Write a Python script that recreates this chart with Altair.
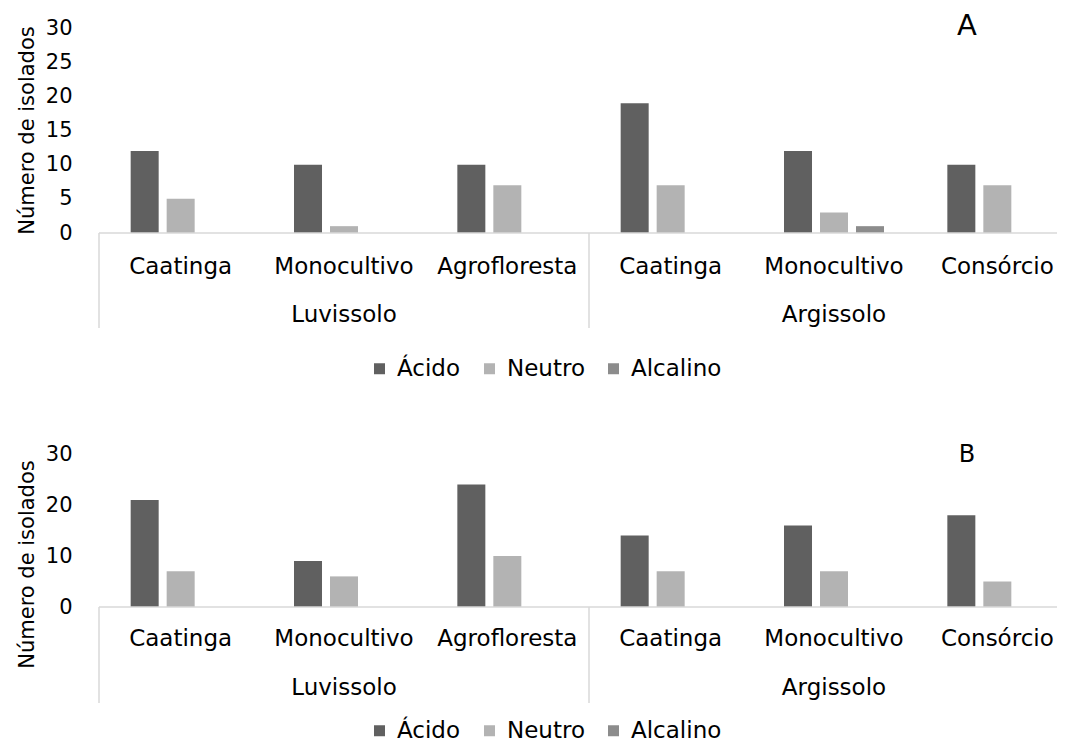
import altair as alt
import pandas as pd

FONT = "DejaVu Sans"

soils = ["Luvissolo", "Luvissolo", "Luvissolo", "Argissolo", "Argissolo", "Argissolo"]
systems = ["Caatinga", "Monocultivo", "Agrofloresta", "Caatinga", "Monocultivo", "Consórcio"]
types = ["Ácido", "Neutro", "Alcalino"]
colors = ["#606060", "#b3b3b3", "#8c8c8c"]

# Panel A
a_acido = [12, 10, 10, 19, 12, 10]
a_neutro = [5, 1, 7, 7, 3, 7]
a_alcalino = [0, 0, 0, 0, 1, 0]
# Panel B
b_acido = [21, 9, 24, 14, 16, 18]
b_neutro = [7, 6, 10, 7, 7, 5]
b_alcalino = [0, 0, 0, 0, 0, 0]

a_ticks = [0, 5, 10, 15, 20, 25, 30]
b_ticks = [0, 10, 20, 30]

keys = [f"{s}|{c}" for s, c in zip(soils, systems)]
group_names = ["Luvissolo", "Argissolo"]
group_center_keys = [keys[1], keys[4]]
group_start_keys = [keys[0], keys[3]]

W = 967


def x_enc(**kw):
    return alt.X(
        "key:N",
        sort=keys,
        scale=alt.Scale(range=[0, 980], paddingInner=0, paddingOuter=0),
        axis=None,
        **kw,
    )


def y_enc(ticks, title_y):
    return alt.Y(
        "n:Q",
        scale=alt.Scale(domain=[0, 30], nice=False),
        axis=alt.Axis(
            values=ticks,
            title="Número de isolados",
            domain=False,
            ticks=False,
            grid=False,
            labelPadding=27,
            labelFont=FONT,
            labelFontSize=21,
            labelColor="black",
            titleFont=FONT,
            titleFontSize=21,
            titleFontWeight="normal",
            titleColor="black",
            titleX=-66,
            titleY=title_y,
            titleBaseline="alphabetic",
        ),
    )


def panel(acido, neutro, alcalino, ticks, h, letter, letter_size, letter_y,
          lab_off, grp_off, sep_len, legend_y, title_y):
    rows = []
    for i, k in enumerate(keys):
        for t, v in zip(types, [acido[i], neutro[i], alcalino[i]]):
            rows.append({"key": k, "tipo": t, "n": v})
    df = pd.DataFrame(rows)

    bars = alt.Chart(df).mark_bar().encode(
        x=x_enc(),
        xOffset=alt.XOffset("tipo:N", sort=types,
                            scale=alt.Scale(paddingInner=0.222, paddingOuter=0.88)),
        y=y_enc(ticks, title_y),
        color=alt.Color(
            "tipo:N",
            sort=types,
            scale=alt.Scale(domain=types, range=colors),
            legend=alt.Legend(
                title=None,
                orient="none",
                legendX=269,
                legendY=legend_y,
                direction="horizontal",
                columns=3,
                symbolType="square",
                symbolSize=121,
                symbolStrokeWidth=0,
                labelFont=FONT,
                labelFontSize=23,
                labelColor="black",
                labelOffset=6,
                columnPadding=17,
                padding=0,
            ),
        ),
    )

    base_line = alt.Chart(pd.DataFrame({"n": [0]})).mark_rule(
        color="#d9d9d9", strokeWidth=1.5
    ).encode(y=y_enc(ticks, title_y))

    cdf = pd.DataFrame({"key": keys, "sistema": systems})
    cats = alt.Chart(cdf).mark_text(
        font=FONT, fontSize=23, baseline="middle", align="center", color="black"
    ).encode(x=x_enc(), y=alt.value(h + lab_off), text="sistema:N")

    gdf = pd.DataFrame({"key": group_center_keys, "soil": group_names})
    groups = alt.Chart(gdf).mark_text(
        font=FONT, fontSize=23, baseline="middle", align="center", color="black"
    ).encode(x=x_enc(), y=alt.value(h + grp_off), text="soil:N")

    sdf = pd.DataFrame({"key": group_start_keys})
    seps = alt.Chart(sdf).mark_rule(color="#d9d9d9", strokeWidth=1.5).encode(
        x=x_enc(bandPosition=0),
        y=alt.value(h),
        y2=alt.value(h + sep_len),
    )

    ldf = pd.DataFrame({"t": [letter]})
    let = alt.Chart(ldf).mark_text(
        font=FONT, fontSize=letter_size, baseline="middle", align="center", color="black"
    ).encode(x=alt.value(868), y=alt.value(letter_y), text="t:N")

    return alt.layer(bars, base_line, cats, groups, seps, let).properties(width=W, height=h)


top = panel(a_acido, a_neutro, a_alcalino, a_ticks, 205, "A", 29, -2,
            34, 82, 95, 329, 102)
bottom = panel(b_acido, b_neutro, b_alcalino, b_ticks, 153, "B", 24, 1,
               32, 81, 96, 265, 110)

chart = (
    alt.vconcat(top, bottom, spacing=62)
    .resolve_scale(y="independent", x="independent", color="independent")
    .resolve_legend(color="independent")
    .properties(padding={"left": 7, "top": 4, "right": -10, "bottom": 0})
    .configure(font=FONT)
    .configure_view(stroke=None)
)

chart.save("out.html", embed_options={"renderer": "svg", "actions": False})
